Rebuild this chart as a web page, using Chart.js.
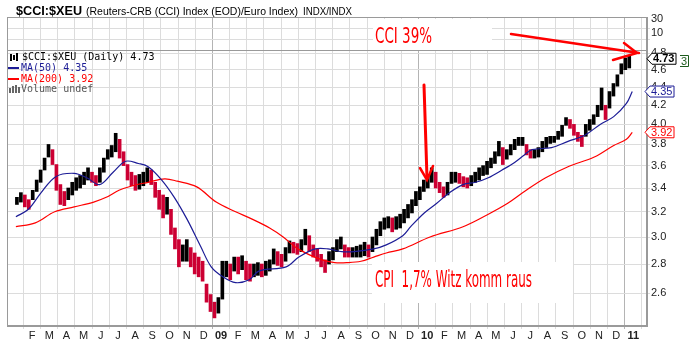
<!DOCTYPE html>
<html>
<head>
<meta charset="utf-8">
<script src="https://cdn.jsdelivr.net/npm/chart.js@4"></script>
<style>
    html, body { margin: 0; padding: 0; background: #fff; }
</style>
</head>
<body>
<canvas id="myChart" width="700" height="363"></canvas>
<script>
// x axis: months since 1 Jan 2008 (1 = Feb 08 ... 36 = Jan 11)
const monthLabels = ["F", "M", "A", "M", "J", "J", "A", "S", "O", "N", "D", "09",
    "F", "M", "A", "M", "J", "J", "A", "S", "O", "N", "D", "10",
    "F", "M", "A", "M", "J", "J", "A", "S", "O", "N", "D", "11"];
const yTicks = [2.6, 2.8, 3.0, 3.2, 3.4, 3.6, 3.8, 4.0, 4.2, 4.4, 4.6, 4.8];
const topTicks = [6.3, 10, 14.6, 30];
const topTickLabels = [10, 30];

// weekly price ranges of $CCI:$XEU, first week starts ~4 Jan 2008
const firstWeek = 0.12;
const weekStep = 7 / 30.44;
const weeklyHigh = [
    3.32, 3.36, 3.34, 3.30, 3.38, 3.47, 3.56, 3.67, 3.80, 3.75,
    3.61, 3.43, 3.37, 3.40, 3.45, 3.49, 3.51, 3.54, 3.58, 3.54,
    3.51, 3.58, 3.67, 3.75, 3.79, 3.91, 3.85, 3.73, 3.61, 3.54,
    3.51, 3.52, 3.54, 3.58, 3.56, 3.45, 3.38, 3.34, 3.32, 3.22,
    3.07, 2.98, 2.94, 2.98, 2.92, 2.88, 2.85, 2.82, 2.66, 2.59,
    2.54, 2.57, 2.82, 2.82, 2.80, 2.85, 2.85, 2.86, 2.82, 2.80,
    2.80, 2.81, 2.80, 2.82, 2.83, 2.91, 2.89, 2.87, 2.92, 2.97,
    2.96, 2.95, 2.98, 3.06, 3.01, 2.94, 2.91, 2.87, 2.83, 2.89,
    2.92, 2.98, 3.00, 2.94, 2.92, 2.92, 2.93, 2.94, 2.96, 2.94,
    3.00, 3.06, 3.12, 3.15, 3.16, 3.15, 3.16, 3.18, 3.22, 3.26,
    3.30, 3.37, 3.41, 3.47, 3.52, 3.58, 3.54, 3.45, 3.41, 3.45,
    3.54, 3.54, 3.53, 3.50, 3.49, 3.51, 3.54, 3.58, 3.60, 3.64,
    3.67, 3.73, 3.83, 3.77, 3.75, 3.80, 3.85, 3.87, 3.87, 3.80,
    3.75, 3.75, 3.77, 3.83, 3.87, 3.88, 3.88, 3.93, 3.99, 4.07,
    4.05, 4.00, 3.92, 3.89, 4.00, 4.05, 4.10, 4.20, 4.39, 4.20,
    4.35, 4.44, 4.54, 4.67, 4.74, 4.76];
const weeklyLow = [
    3.26, 3.28, 3.24, 3.22, 3.30, 3.37, 3.45, 3.56, 3.68, 3.61,
    3.38, 3.26, 3.25, 3.30, 3.34, 3.38, 3.40, 3.43, 3.47, 3.45,
    3.42, 3.45, 3.54, 3.66, 3.68, 3.73, 3.67, 3.60, 3.47, 3.42,
    3.38, 3.39, 3.42, 3.45, 3.43, 3.32, 3.22, 3.15, 3.18, 3.02,
    2.91, 2.78, 2.82, 2.82, 2.78, 2.73, 2.71, 2.68, 2.54, 2.48,
    2.44, 2.47, 2.56, 2.71, 2.69, 2.75, 2.73, 2.76, 2.69, 2.68,
    2.71, 2.72, 2.71, 2.72, 2.75, 2.80, 2.79, 2.78, 2.82, 2.88,
    2.88, 2.87, 2.89, 2.94, 2.89, 2.85, 2.82, 2.78, 2.74, 2.80,
    2.83, 2.89, 2.91, 2.85, 2.85, 2.85, 2.85, 2.85, 2.86, 2.85,
    2.89, 2.94, 3.01, 3.06, 3.07, 3.04, 3.06, 3.07, 3.11, 3.15,
    3.19, 3.25, 3.30, 3.37, 3.40, 3.45, 3.40, 3.36, 3.32, 3.34,
    3.44, 3.45, 3.44, 3.41, 3.40, 3.42, 3.45, 3.47, 3.51, 3.52,
    3.58, 3.62, 3.69, 3.61, 3.66, 3.70, 3.75, 3.79, 3.79, 3.70,
    3.67, 3.67, 3.68, 3.73, 3.77, 3.81, 3.82, 3.85, 3.88, 3.99,
    3.96, 3.89, 3.83, 3.78, 3.88, 3.94, 4.00, 4.08, 4.15, 4.05,
    4.17, 4.30, 4.41, 4.55, 4.60, 4.62];

// moving averages
const ma50X = [0.06, 0.79, 1.53, 2.38, 3.45, 4.19, 4.93, 5.72, 6.45, 7.19, 7.76, 8.55, 9.28, 10.02,
    10.81, 11.43, 12.11, 12.85, 13.64, 14.2, 15.79, 16.53, 17.49, 18.23, 19.02, 19.75, 20.89, 21.62,
    22.58, 23.04, 23.83, 24.56, 25.30, 26.09, 26.83, 27.56, 28.36, 29.09, 29.66, 30.11, 31.24, 32.20,
    33.17, 34.07, 34.86, 35.60, 35.94];
const ma50 = [3.16, 3.22, 3.36, 3.50, 3.53, 3.49, 3.43, 3.54, 3.64, 3.62, 3.59, 3.47, 3.32, 3.14,
    2.93, 2.78, 2.71, 2.67, 2.69, 2.75, 2.78, 2.85, 2.91, 2.91, 2.89, 2.89, 2.91, 2.94,
    3.01, 3.08, 3.19, 3.27, 3.36, 3.43, 3.45, 3.49, 3.56, 3.63, 3.70, 3.75, 3.77, 3.83,
    3.89, 4.00, 4.08, 4.22, 4.35];
const ma200X = [0.06, 1.19, 2.32, 3.45, 4.59, 5.32, 6.06, 6.85, 7.76, 8.72, 9.45, 10.59, 11.72,
    12.85, 13.81, 14.83, 15.62, 16.36, 17.09, 17.89, 18.62, 19.36, 20.15, 20.89, 21.62, 22.58,
    24.17, 26.09, 27.56, 28.69, 29.66, 30.90, 32.20, 33.73, 34.86, 35.60, 35.94];
const ma200 = [3.08, 3.11, 3.20, 3.24, 3.28, 3.32, 3.38, 3.42, 3.45, 3.48, 3.46, 3.41, 3.28,
    3.20, 3.14, 3.07, 3.00, 2.92, 2.87, 2.83, 2.81, 2.81, 2.82, 2.85, 2.88, 2.91,
    3.00, 3.08, 3.18, 3.27, 3.37, 3.49, 3.59, 3.68, 3.79, 3.85, 3.92];

const lastClose = 4.73;
const lastMa50 = 4.35;
const lastMa200 = 3.92;

const upColor = "#000000";
const downColor = "#cc0033";
const ma50Color = "#1c1c96";
const ma200Color = "#ff0000";
const noteRed = "#ff0000";

const bars = [];
const barColors = [];
weeklyHigh.forEach((hi, i) => {
    const lo = weeklyLow[i];
    bars.push({x: firstWeek + i * weekStep, y: [lo, hi]});
    const mid = (hi + lo) / 2;
    const prev = i > 0 ? (weeklyHigh[i - 1] + weeklyLow[i - 1]) / 2 : mid;
    barColors.push(mid >= prev ? upColor : downColor);
});
const ma50Points = ma50X.map((x, i) => ({x: x, y: ma50[i]}));
const ma200Points = ma200X.map((x, i) => ({x: x, y: ma200[i]}));

function fitText(ctx, text, x, y, width, font, color) {
    ctx.save();
    ctx.font = font;
    const w = ctx.measureText(text).width;
    ctx.translate(x, y);
    ctx.scale(width / w, 1);
    ctx.fillStyle = color;
    ctx.textBaseline = "alphabetic";
    ctx.fillText(text, 0, 0);
    ctx.restore();
}

function line(ctx, pts, color, width) {
    ctx.save();
    ctx.strokeStyle = color;
    ctx.lineWidth = width;
    ctx.lineCap = "round";
    ctx.beginPath();
    ctx.moveTo(pts[0], pts[1]);
    for (let i = 2; i < pts.length; i += 2) ctx.lineTo(pts[i], pts[i + 1]);
    ctx.stroke();
    ctx.restore();
}

function valueTag(ctx, x, y, text, color, bold) {
    ctx.save();
    ctx.beginPath();
    ctx.moveTo(x, y);
    ctx.lineTo(x + 5, y - 5.5);
    ctx.lineTo(x + 29, y - 5.5);
    ctx.lineTo(x + 29, y + 5.5);
    ctx.lineTo(x + 5, y + 5.5);
    ctx.closePath();
    ctx.fillStyle = "#fff";
    ctx.fill();
    ctx.strokeStyle = color;
    ctx.lineWidth = 1;
    ctx.stroke();
    ctx.fillStyle = color;
    ctx.font = (bold ? "bold " : "") + "11px 'Liberation Sans', Arial, sans-serif";
    ctx.textBaseline = "middle";
    ctx.fillText(text, x + 6, y + 0.5);
    ctx.restore();
}

const narrow = "'Liberation Sans Narrow', 'DejaVu Sans Condensed', sans-serif";
const sans = "'Liberation Sans', Arial, sans-serif";

const overlay = {
    id: "overlay",
    beforeDatasetsDraw(chart) {
        const {ctx, chartArea: a} = chart;
        ctx.save();
        // white patches under the handwritten notes
        ctx.fillStyle = "#fff";
        ctx.fillRect(373, 19, 119, 31);
        ctx.fillRect(372, 262, 201, 41);
        // frame and separator line
        ctx.strokeStyle = "#9a9a9a";
        ctx.lineWidth = 1;
        ctx.strokeRect(a.left + 0.5, a.top + 0.5, a.width - 1, a.height - 1);
        ctx.beginPath();
        ctx.moveTo(a.left, chart.scales.y.top + 0.5);
        ctx.lineTo(a.right, chart.scales.y.top + 0.5);
        ctx.stroke();
        ctx.restore();
    },
    afterDraw(chart) {
        const {ctx, chartArea: a} = chart;
        const y = chart.scales.y;
        ctx.save();

        // title
        fitText(ctx, "$CCI:$XEU", 16, 15, 66, "bold 13px " + sans, "#000");
        fitText(ctx, "(Reuters-CRB (CCI) Index (EOD)/Euro Index)", 86, 15, 212, "11px " + sans, "#000");
        fitText(ctx, "INDX/INDX", 303, 15, 49, "10px " + sans, "#000");

        // legend
        ctx.font = "10px 'DejaVu Sans Mono', monospace";
        ctx.textBaseline = "middle";
        ctx.fillStyle = "#000";
        ctx.fillRect(10, 54, 2, 7);
        ctx.fillRect(13, 55, 2, 5);
        ctx.fillRect(16, 53, 2, 8);
        ctx.fillText("$CCI:$XEU (Daily) 4.73", 22, 57.5);
        ctx.fillStyle = ma50Color;
        ctx.fillRect(8, 67, 11, 2);
        ctx.fillText("MA(50) 4.35", 21, 68.5);
        ctx.fillStyle = ma200Color;
        ctx.fillRect(8, 78, 11, 2);
        ctx.fillText("MA(200) 3.92", 21, 79.5);
        ctx.fillStyle = "#666";
        ctx.fillRect(9, 88, 2, 5);
        ctx.fillRect(12, 86, 2, 7);
        ctx.fillRect(15, 85, 2, 8);
        ctx.fillRect(18, 87, 2, 6);
        ctx.fillStyle = "#555";
        ctx.fillText("Volume undef", 21, 89.5);

        // value tags on the price axis
        valueTag(ctx, a.right, y.getPixelForValue(lastClose), lastClose.toFixed(2), "#000", true);
        valueTag(ctx, a.right - 2, y.getPixelForValue(lastMa50), lastMa50.toFixed(2), ma50Color, false);
        valueTag(ctx, a.right - 2, y.getPixelForValue(lastMa200), lastMa200.toFixed(2), ma200Color, false);

        // clipped tag at the far right
        ctx.strokeStyle = "#1d5c1d";
        ctx.lineWidth = 1;
        ctx.beginPath();
        ctx.moveTo(680, 55.5);
        ctx.lineTo(688.5, 55.5);
        ctx.lineTo(688.5, 66.5);
        ctx.lineTo(680, 66.5);
        ctx.stroke();
        ctx.fillStyle = "#1d5c1d";
        ctx.font = "11px " + sans;
        ctx.fillText("3", 681, 61.5);

        // notes
        fitText(ctx, "CCI 39%", 375, 43, 57, "22px " + narrow, noteRed);
        fitText(ctx, "CPI  1,7% Witz komm raus", 375, 287, 157, "23px " + narrow, noteRed);
        line(ctx, [511, 34, 639, 53], noteRed, 2.5);
        line(ctx, [624, 43, 637, 53, 613, 60], noteRed, 2.5);
        line(ctx, [424, 85, 427, 178], noteRed, 3);
        line(ctx, [420, 168, 427, 180, 433, 166], noteRed, 2.5);
        ctx.restore();
    }
};

const ctx = document.getElementById("myChart");

const myChart = new Chart(ctx, {
    type: "bar",
    data: {
        datasets: [
            {
                type: "line",
                label: "MA(50)",
                data: ma50Points,
                borderColor: ma50Color,
                borderWidth: 1.2,
                pointRadius: 0,
                tension: 0.35,
                order: 0,
                yAxisID: "y",
            },
            {
                type: "line",
                label: "MA(200)",
                data: ma200Points,
                borderColor: ma200Color,
                borderWidth: 1.2,
                pointRadius: 0,
                tension: 0.35,
                order: 0,
                yAxisID: "y",
            },
            {
                type: "bar",
                label: "$CCI:$XEU",
                data: bars,
                backgroundColor: barColors,
                barThickness: 3,
                grouped: false,
                order: 1,
                yAxisID: "y",
            },
        ],
    },
    options: {
        responsive: false,
        animation: false,
        devicePixelRatio: 1,
        layout: {padding: {left: 7, top: 17, right: 0, bottom: 0}},
        plugins: {
            legend: {display: false},
            tooltip: {enabled: false},
        },
        scales: {
            x: {
                type: "linear",
                min: 0.06,
                max: 36.28,
                afterBuildTicks: axis => {
                    axis.ticks = monthLabels.map((l, i) => ({value: i + 1}));
                },
                afterFit: axis => {
                    axis.height = 37;
                },
                ticks: {
                    autoSkip: false,
                    maxRotation: 0,
                    padding: 0,
                    color: "#222",
                    font: c => ({
                        family: sans,
                        size: 11,
                        weight: c.tick && c.tick.value % 12 === 0 ? "bold" : "normal",
                    }),
                    callback: v => monthLabels[Math.round(v) - 1],
                },
                grid: {
                    color: c => (c.tick && c.tick.value % 12 === 0 ? "#b4b4b4" : "#dcdcdc"),
                    tickLength: 3,
                },
                border: {color: "#9a9a9a"},
            },
            top: {
                type: "logarithmic",
                position: "right",
                stack: "price",
                stackWeight: 33,
                min: 2.76,
                max: 33.6,
                afterBuildTicks: axis => {
                    axis.ticks = topTicks.map(v => ({value: v}));
                },
                afterFit: axis => {
                    axis.width = 53;
                },
                ticks: {
                    autoSkip: false,
                    padding: 1,
                    color: "#222",
                    font: {family: sans, size: 11},
                    callback: v => (topTickLabels.includes(v) ? String(v) : ""),
                },
                grid: {
                    color: c => (c.tick && topTickLabels.includes(c.tick.value) ? "rgba(0,0,0,0)" : "#dcdcdc"),
                    tickLength: 3,
                },
                border: {color: "#9a9a9a"},
            },
            y: {
                type: "logarithmic",
                position: "right",
                stack: "price",
                stackWeight: 276,
                min: 2.39,
                max: 4.837,
                afterBuildTicks: axis => {
                    axis.ticks = yTicks.map(v => ({value: v}));
                },
                afterFit: axis => {
                    axis.width = 53;
                },
                ticks: {
                    autoSkip: false,
                    padding: 1,
                    color: "#222",
                    font: {family: sans, size: 11},
                    callback: v => v.toFixed(1),
                },
                grid: {color: "#dcdcdc", tickLength: 3},
                border: {color: "#9a9a9a"},
            },
        },
    },
    plugins: [overlay],
});
</script>
</body>
</html>
